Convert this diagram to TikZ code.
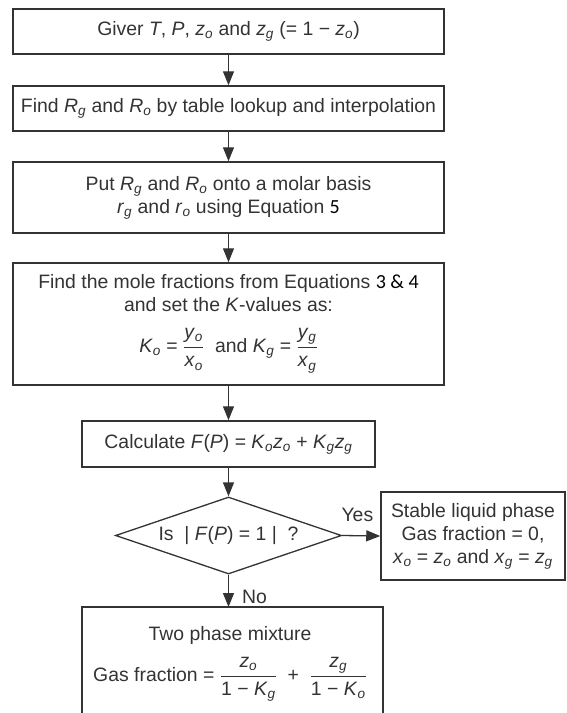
\documentclass[tikz,border=0pt]{standalone}
\usepackage{amsmath}
\usepackage{fontspec}
\setmainfont{Liberation Sans}
\newfontfamily\calfont{Carlito}
\usetikzlibrary{arrows.meta,shapes.geometric}
\newcommand{\vs}[2]{\textit{#1}\textsubscript{\textit{#2}}}
\newcommand{\vsm}[2]{\text{\vs{#1}{#2}}}
\newcommand{\blk}[1]{{\calfont\fontsize{20}{23}\selectfont\color{black}#1}}
\definecolor{ink}{HTML}{333333}
\tikzset{
  box/.style={draw=ink, line width=1.5pt, align=center, inner sep=0pt, text=ink},
  arr/.style={draw=ink, line width=1.3pt, -{Triangle[length=14pt,width=11pt]}},
  lbl/.style={text=ink, inner sep=0pt},
}
\begin{document}
\begin{tikzpicture}[x=1pt,y=-1pt,font=\fontsize{19.4}{23}\selectfont]
\useasboundingbox (0,0) rectangle (566,713);
\node[box, minimum width=431pt, minimum height=45pt] (b1) at (228.5,31.5)
  {Giver \textit{T}, \textit{P}, \vs{z}{o} and \vs{z}{g} (= 1 − \vs{z}{o})};
\node[box, minimum width=431pt, minimum height=45pt] (b2) at (228.5,108.5)
  {Find \vs{R}{g} and \vs{R}{o} by table lookup and interpolation};
\node[box, minimum width=431pt, minimum height=71pt] (b3) at (228.5,197.5)
  {Put \vs{R}{g} and \vs{R}{o} onto a molar basis\\ \vs{r}{g} and \vs{r}{o} using Equation \blk{5}};
\node[box, minimum width=431pt, minimum height=122pt] (b4) at (228.5,324)
  {\raisebox{0pt}[0pt][0pt]{}Find the mole fractions from Equations \blk{3 \& 4}\\
   and set the \textit{K}-values as:\\[16pt]
   \vs{K}{o} = $\dfrac{\vsm{y}{o}}{\vsm{x}{o}}$ \ and \vs{K}{g} = $\dfrac{\vsm{y}{g}}{\vsm{x}{g}}$\\[-2pt]\mbox{}};
\node[box, minimum width=293pt, minimum height=46pt] (b5) at (228.5,444)
  {Calculate \textit{F}(\textit{P}) = \vs{K}{o}\vs{z}{o} + \vs{K}{g}\vs{z}{g}};
\node[draw=ink, line width=1.3pt, diamond, aspect=2.93, minimum width=226pt, minimum height=77pt, inner sep=0pt, text=ink] (d) at (228.5,535.5)
  {Is\ \ |\ \textit{F}(\textit{P}) = 1\ |\ \ ?};
\node[box, minimum width=184pt, minimum height=88pt] (b6) at (473,536)
  {Stable liquid phase\\ Gas fraction = 0,\\ \vs{x}{o} = \vs{z}{o} and \vs{x}{g} = \vs{z}{g}};
\node[lbl, align=center] (b7) at (230,664)
  {Two phase mixture\\[12pt]
   Gas fraction = $\dfrac{\vsm{z}{o}}{\text{1 − \vs{K}{g}}}$ \;+\; $\dfrac{\vsm{z}{g}}{\text{1 − \vs{K}{o}}}$};
\coordinate (b7tl) at (82,607);
\coordinate (b7tr) at (383,607);
\coordinate (b7bl) at (82,716);
\coordinate (b7br) at (383,716);
\draw[draw=ink, line width=1.5pt] (b7bl) -- (b7tl) -- (b7tr) -- (b7br);
\draw[arr] (b1) -- (b2);
\draw[arr] (b2) -- (b3);
\draw[arr] (b3) -- (b4);
\draw[arr] (b4) -- (b5);
\draw[arr] (b5) -- (d);
\draw[arr] (d.east) -- (b6.west) node[lbl, pos=0.4, above=13pt] {Yes};
\draw[arr] (d.south) -- (b7tl -| d.south) node[lbl, pos=0.7, right=13pt] {No};
\end{tikzpicture}
\end{document}
